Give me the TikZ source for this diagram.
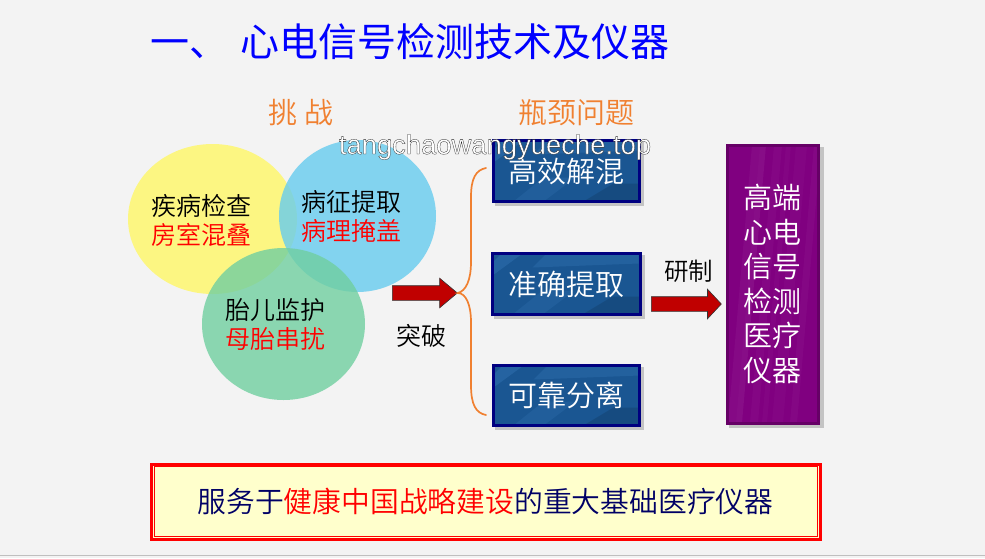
\documentclass[tikz,border=0pt]{standalone}
\usepackage{fontspec}
\setmainfont{Noto Sans CJK SC DemiLight}
\newfontfamily\titlefont{Noto Sans CJK SC}
\newfontfamily\wmfont{Liberation Sans}
\usetikzlibrary{shapes.geometric,shapes.arrows}
\definecolor{bgc}{HTML}{F3F3F3}
\definecolor{orangec}{HTML}{F08030}
\definecolor{blueboxc}{HTML}{1A5692}
\definecolor{bluestreak}{HTML}{2F6FAE}
\definecolor{navyc}{HTML}{000080}
\definecolor{purplec}{HTML}{800080}
\definecolor{purplestreak}{HTML}{9A2A9A}
\definecolor{purpleedge}{HTML}{660066}
\definecolor{creamc}{HTML}{FFFFCC}
\definecolor{darkblue}{HTML}{000066}
\definecolor{arrowred}{HTML}{C00000}
\definecolor{shadowc}{HTML}{C4C4C4}
\tikzset{
  cjk/.style={inner sep=0pt,font=\fontsize{#1}{#1}\selectfont,text height=0.88*#1pt,text depth=0.12*#1pt},
  venn/.style={ellipse,inner sep=0pt,opacity=0.8,draw=none},
  twolines/.style={inner sep=0pt,align=center,font=\fontsize{25}{29}\selectfont},
  skillbox/.style={draw=navyc,line width=3pt,fill=blueboxc,text=white,minimum width=146pt,minimum height=60pt,inner sep=0pt,font=\fontsize{29}{29}\selectfont},
  blockarrow/.style={single arrow,anchor=tail,draw=black!80,line width=0.6pt,fill=arrowred,inner sep=0pt,text height=14pt,text depth=0pt,text width=0pt,single arrow head extend=7.5pt},
  bracel/.style={draw=orangec,line width=1.7pt},
}
\begin{document}
\begin{tikzpicture}[x=1pt,y=-1pt]
\useasboundingbox (0,0) rectangle (985,558);
\fill[bgc] (0,0) rectangle (985,558);
\draw[gray!50,line width=1pt] (0,555.5) -- (985,555.5);

\node[cjk=39,text=blue,anchor=west,font=\titlefont\fontsize{39}{39}\selectfont] (title) at (150,42) {一、 \hspace{4pt}心电信号检测技术及仪器};
\node[cjk=29,text=orangec] (tiaozhan) at (301,112) {挑 战};
\node[cjk=29,text=orangec] (pingjing) at (576,112) {瓶颈问题};

\node[venn,fill=yellow!60!white,minimum width=169pt,minimum height=150pt] (cy) at (212.5,219) {};
\node[venn,fill={rgb,255:red,102;green,204;blue,238},minimum width=157pt,minimum height=152pt] (cb) at (357.5,216) {};
\node[venn,fill={rgb,255:red,112;green,207;blue,160},minimum width=163pt,minimum height=152pt] (cg) at (283.5,324) {};

\node[twolines] (t1) at (201.5,220.5) {疾病检查\\\textcolor{red}{房室混叠}};
\node[twolines] (t2) at (351.5,216) {病征提取\\\textcolor{red}{病理掩盖}};
\node[twolines] (t3) at (275,324.5) {胎儿监护\\\textcolor{red}{母胎串扰}};

\node[blockarrow,minimum height=65pt,single arrow tip angle=80] (a1) at (392,293) {};
\node[cjk=25] (tupo) at (421,336) {突破};

\coordinate (bracetop) at (486,168);
\coordinate (bracebot) at (486,415);
\draw[bracel,line cap=round] (bracetop) .. controls (476,170) and (471,178) .. (471,197) -- (471,262)
  .. controls (471,280) and (466,291) .. (a1.tip) .. controls (466,293) and (471,305) .. (471,322)
  -- (471,385) .. controls (471,405) and (476,413) .. (bracebot);

% skill boxes
\fill[shadowc] (495,142) rectangle (644,206);
\fill[shadowc] (494,255) rectangle (645,319);
\fill[shadowc] (495,367) rectangle (644,430);
\foreach \xa/\ya/\xb/\yb in {493.5/140.5/639.5/201.5, 492.5/253.5/640.5/314.5, 493.5/365.5/639.5/425.5}{
  \fill[blueboxc] (\xa,\ya) rectangle (\xb,\yb);
  \begin{scope}
    \clip (\xa,\ya) rectangle (\xb,\yb);
    \fill[bluestreak,opacity=.55] (\xa,\ya+9) -- (\xa+9,\ya) -- (\xa+30,\ya) -- (\xa,\ya+22) -- cycle;
    \fill[bluestreak,opacity=.45] (\xa+40,\ya+14) -- (\xa+54,\ya) -- (\xa+146,\ya) -- (\xa+146,\ya+10) -- cycle;
    \fill[bluestreak,opacity=.35] (\xa+20,\yb) -- (\xa+50,\yb-24) -- (\xa+82,\yb-24) -- (\xa+50,\yb) -- cycle;
    \fill[black,opacity=.12] (\xa+90,\yb) -- (\xa+120,\yb-18) -- (\xb,\yb-18) -- (\xb,\yb) -- cycle;
  \end{scope}
}
\node[skillbox,fill=none,minimum width=146pt,minimum height=61pt] (b1) at (566.5,171) {高效解混};
\node[skillbox,fill=none,minimum width=148pt,minimum height=61pt] (b2) at (566.5,284) {准确提取};
\node[skillbox,fill=none,minimum width=146pt,minimum height=60pt] (b3) at (566.5,395.5) {可靠分离};

\node[cjk=24.5] (yanzhi) at (688.5,271) {研制};
\node[blockarrow,minimum height=70pt,single arrow tip angle=94] (a2) at (651,304) {};

% purple box
\fill[shadowc] (729,147) rectangle (824,428);
\fill[purplec] (727,145) rectangle (818,423);
\begin{scope}
  \clip (727,145) rectangle (818,423);
  \foreach \x/\w/\o in {738/14/.22, 760/8/.16, 782/11/.14, 800/7/.18, 746/6/.12, 772/5/.12}{
    \fill[purplestreak,opacity=\o] (\x+14,145) -- (\x+14+\w,145) -- (\x-10+\w,423) -- (\x-10,423) -- cycle;
  }
\end{scope}
\node[draw=purpleedge,line width=3pt,minimum width=91pt,minimum height=278pt,inner sep=0pt,text=white,align=center,font=\fontsize{29}{34.6}\selectfont] (dev) at (772.5,284) {高端\\心电\\信号\\检测\\医疗\\仪器};

% bottom box
\node[draw=red,line width=3pt,fill=creamc,minimum width=669pt,minimum height=75pt,inner sep=0pt] (outer) at (485.5,501.5) {};
\node[draw=red,line width=0.7pt,minimum width=663pt,minimum height=69.5pt,inner sep=0pt,text=darkblue,font=\fontsize{28.8}{28.8}\selectfont] (goal) at (485.5,501.5) {服务于\textcolor{red}{健康中国战略建设}的重大基础医疗仪器};

% watermark
\node[inner sep=0pt,text=white,font=\wmfont\fontsize{27.4}{27.4}\selectfont] (wm) at (495,147) {\special{pdf:code 2 Tr 0.28 w 0.15 0.15 0.15 RG}tangchaowangyueche.top\special{pdf:code 0 Tr 0 0 0 RG}};
\end{tikzpicture}
\end{document}
